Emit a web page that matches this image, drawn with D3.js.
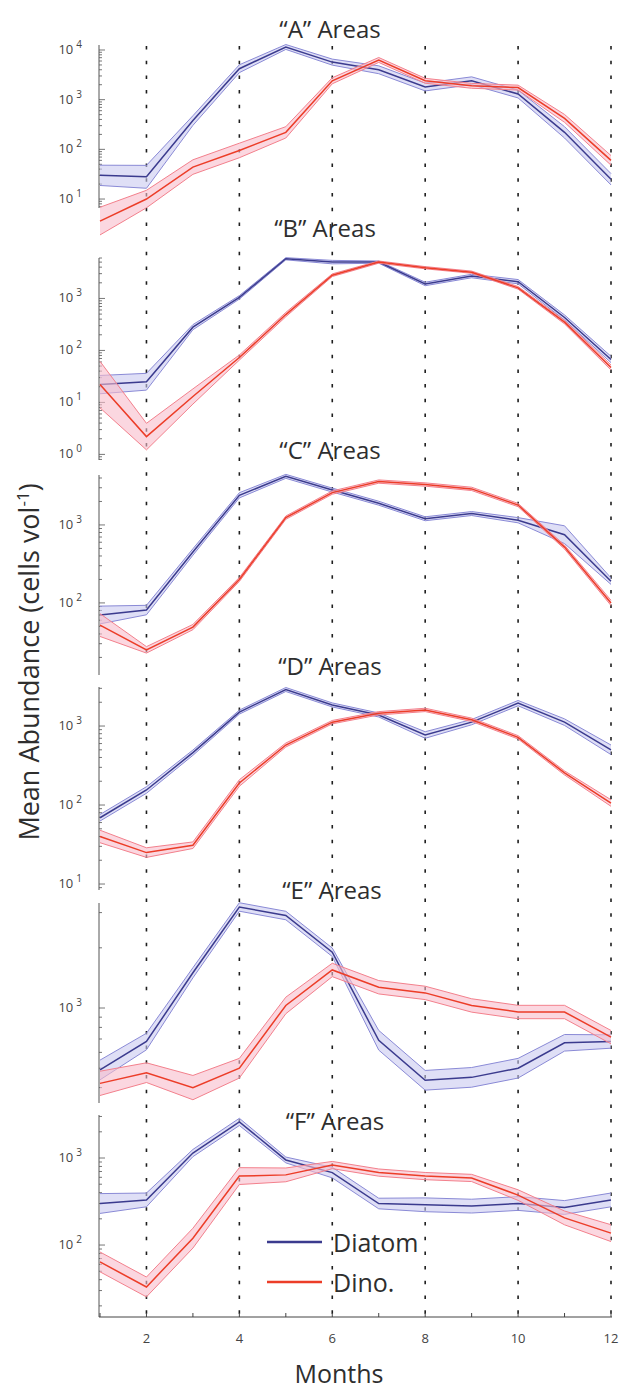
<!DOCTYPE html>
<html>
<head>
<meta charset="utf-8">
<script src="https://cdn.jsdelivr.net/npm/d3@7"></script>
<style>
  body { margin: 0; background: #fff; }
  svg { display: block; }
  text { font-family: "Open Sans", sans-serif; fill: #2e2e2e; }
</style>
</head>
<body>
<div id="chart"></div>
<script>
// ---- data ----
const months = [1, 2, 3, 4, 5, 6, 7, 8, 9, 10, 11, 12];
const xTickLabels = [2, 4, 6, 8, 10, 12];
const panelLabels = ["A", "B", "C", "D", "E", "F"];

// mean abundance (cells vol-1)
const diatomA = [30, 28, 380, 4200, 11500, 5700, 4000, 1800, 2400, 1300, 220, 25];
const dinoA   = [3.6, 10, 44, 95, 220, 2400, 6300, 2400, 1900, 1750, 420, 60];
const diatomB = [22, 25, 280, 1050, 5800, 5000, 5000, 1900, 2700, 2100, 430, 67];
const dinoB   = [22, 2.2, 13, 73, 490, 2800, 5000, 3900, 3200, 1600, 350, 47];
const diatomC = [70, 81, 450, 2400, 4200, 2800, 1900, 1200, 1400, 1150, 750, 190];
const dinoC   = [52, 25, 49, 200, 1240, 2600, 3600, 3300, 2900, 1800, 520, 100];
const diatomD = [69, 155, 460, 1500, 2900, 1850, 1380, 770, 1120, 1950, 1120, 500];
const dinoD   = [40, 25, 31, 190, 575, 1120, 1450, 1600, 1200, 720, 255, 106];
const diatomE = [490, 680, 1500, 3200, 2900, 1900, 690, 435, 450, 500, 670, 680];
const dinoE   = [420, 475, 400, 500, 1030, 1550, 1270, 1190, 1030, 955, 955, 715];
const diatomF = [300, 330, 1140, 2600, 950, 680, 300, 290, 280, 300, 270, 330];
const dinoF   = [64, 33, 120, 620, 640, 830, 680, 620, 590, 375, 205, 137];

// spread of the shaded band (multiplicative factor around the mean)
const diatomASpread = [1.6, 1.7, 1.25, 1.2, 1.12, 1.15, 1.2, 1.2, 1.2, 1.2, 1.3, 1.3];
const dinoASpread   = [1.9, 1.5, 1.4, 1.4, 1.3, 1.15, 1.12, 1.12, 1.12, 1.12, 1.2, 1.25];
const diatomBSpread = [1.5, 1.45, 1.12, 1.08, 1.05, 1.08, 1.05, 1.08, 1.08, 1.1, 1.12, 1.15];
const dinoBSpread   = [2.8, 1.8, 1.4, 1.12, 1.1, 1.06, 1.05, 1.05, 1.05, 1.06, 1.08, 1.12];
const diatomCSpread = [1.3, 1.15, 1.1, 1.08, 1.06, 1.06, 1.06, 1.06, 1.06, 1.08, 1.3, 1.1];
const dinoCSpread   = [1.4, 1.1, 1.08, 1.06, 1.05, 1.05, 1.05, 1.05, 1.05, 1.05, 1.06, 1.08];
const diatomDSpread = [1.1, 1.1, 1.08, 1.06, 1.06, 1.06, 1.06, 1.1, 1.08, 1.08, 1.1, 1.15];
const dinoDSpread   = [1.2, 1.15, 1.1, 1.1, 1.06, 1.05, 1.05, 1.05, 1.05, 1.05, 1.06, 1.1];
const diatomESpread = [1.12, 1.1, 1.06, 1.05, 1.05, 1.05, 1.12, 1.12, 1.12, 1.12, 1.1, 1.08];
const dinoESpread   = [1.15, 1.12, 1.15, 1.12, 1.1, 1.08, 1.08, 1.08, 1.08, 1.08, 1.08, 1.08];
const diatomFSpread = [1.3, 1.2, 1.1, 1.1, 1.08, 1.15, 1.15, 1.2, 1.2, 1.2, 1.2, 1.2];
const dinoFSpread   = [1.3, 1.3, 1.3, 1.25, 1.2, 1.1, 1.1, 1.1, 1.1, 1.15, 1.2, 1.25];

// y-axis value range and labelled decades of each panel
const yDomains = [[6.6, 12600], [0.78, 6000], [11.9, 4370], [8.4, 3120], [335, 3350], [14.9, 3120]];
const yTickExps = [[1, 2, 3, 4], [0, 1, 2, 3], [2, 3], [1, 2, 3], [3], [2, 3]];

const diatoms = [diatomA, diatomB, diatomC, diatomD, diatomE, diatomF];
const dinos = [dinoA, dinoB, dinoC, dinoD, dinoE, dinoF];
const diatomSpreads = [diatomASpread, diatomBSpread, diatomCSpread, diatomDSpread, diatomESpread, diatomFSpread];
const dinoSpreads = [dinoASpread, dinoBSpread, dinoCSpread, dinoDSpread, dinoESpread, dinoFSpread];

// ---- layout ----
const W = 621, H = 1389;
const axisX = 99;
const panelTops = [45, 258, 475, 687, 903, 1115];
const panelBottoms = [208, 460, 675, 890, 1103, 1317];
const titleX = [330, 325, 330, 330, 332, 335];
const titleY = [38, 237, 459, 675, 899, 1130];

const svg = d3.select("#chart").append("svg")
    .attr("width", W)
    .attr("height", H);

const x = d3.scaleLinear().domain([1, 12]).range([axisX + 1, 611]);

// dotted month guides
svg.append("g")
    .selectAll("line")
    .data(xTickLabels)
    .join("line")
    .attr("x1", d => x(d)).attr("x2", d => x(d))
    .attr("y1", 46).attr("y2", panelBottoms[5])
    .attr("stroke", "#1e1e1e")
    .attr("stroke-width", 1.6)
    .attr("stroke-dasharray", "3.5,11.2");

const blue = { line: "#3b3b8e", edge: "#8a8ad6", fill: "#c9c9f0" };
const red = { line: "#ec3d28", edge: "#f3808c", fill: "#f8bccb" };

panelLabels.forEach((lab, i) => {
    const y = d3.scaleLog()
        .domain(yDomains[i])
        .range([panelBottoms[i], panelTops[i]]);
    const g = svg.append("g");

    // axis line + log ticks (inside)
    g.append("line")
        .attr("x1", axisX).attr("x2", axisX)
        .attr("y1", panelTops[i]).attr("y2", panelBottoms[i])
        .attr("stroke", "#555").attr("stroke-width", 1);

    const [lo, hi] = yDomains[i];
    const ticks = [];
    for (let e = Math.floor(Math.log10(lo)); e <= Math.ceil(Math.log10(hi)); e++) {
        for (let m = 1; m <= 9; m++) {
            const v = m * Math.pow(10, e);
            if (v >= lo && v <= hi) ticks.push({ v, major: m === 1 });
        }
    }
    g.selectAll(".tk")
        .data(ticks)
        .join("line")
        .attr("x1", axisX).attr("x2", d => axisX + (d.major ? 6 : 3))
        .attr("y1", d => y(d.v)).attr("y2", d => y(d.v))
        .attr("stroke", "#555").attr("stroke-width", 0.8);

    const lbl = g.selectAll(".lbl")
        .data(yTickExps[i])
        .join("text")
        .attr("x", 82)
        .attr("y", d => y(Math.pow(10, d)) + 4)
        .attr("text-anchor", "end")
        .style("font-size", "13px")
        .style("fill", "#444");
    lbl.append("tspan").text("10");
    lbl.append("tspan").attr("dx", 3).attr("dy", -6)
        .style("font-size", "10px").text(d => d);

    // bands and lines
    const series = [
        { vals: diatoms[i], spread: diatomSpreads[i], col: blue },
        { vals: dinos[i], spread: dinoSpreads[i], col: red }
    ];
    series.forEach(s => {
        const pts = months.map((m, k) => ({ m, v: s.vals[k], f: s.spread[k] }));
        const area = d3.area()
            .x(d => x(d.m))
            .y0(d => y(d.v / d.f))
            .y1(d => y(d.v * d.f));
        g.append("path").datum(pts)
            .attr("d", area)
            .attr("fill", s.col.fill)
            .attr("fill-opacity", 0.6);
        const upper = d3.line().x(d => x(d.m)).y(d => y(d.v * d.f));
        const lower = d3.line().x(d => x(d.m)).y(d => y(d.v / d.f));
        [upper, lower].forEach(fn => {
            g.append("path").datum(pts)
                .attr("d", fn)
                .attr("fill", "none")
                .attr("stroke", s.col.edge)
                .attr("stroke-width", 1);
        });
        g.append("path").datum(pts)
            .attr("d", d3.line().x(d => x(d.m)).y(d => y(d.v)))
            .attr("fill", "none")
            .attr("stroke", s.col.line)
            .attr("stroke-width", 1.5);
    });

    g.append("text")
        .attr("x", titleX[i]).attr("y", titleY[i])
        .attr("text-anchor", "middle")
        .style("font-size", "24px")
        .text("\u201C" + lab + "\u201D Areas");
});

// bottom x axis
const xAxis = svg.append("g")
    .attr("transform", `translate(0,${panelBottoms[5]})`);
xAxis.append("line")
    .attr("x1", axisX).attr("x2", 612)
    .attr("stroke", "#444").attr("stroke-width", 1);
xAxis.selectAll(".xt")
    .data(months)
    .join("line")
    .attr("x1", d => x(d)).attr("x2", d => x(d))
    .attr("y1", 0).attr("y2", -4)
    .attr("stroke", "#444");
xAxis.selectAll(".xl")
    .data(xTickLabels)
    .join("text")
    .attr("x", d => x(d)).attr("y", 26)
    .attr("text-anchor", "middle")
    .style("font-size", "13px")
    .style("fill", "#444")
    .text(d => d);

svg.append("text")
    .attr("x", 339).attr("y", 1383)
    .attr("text-anchor", "middle")
    .style("font-size", "25px")
    .text("Months");

const yl = svg.append("text")
    .attr("transform", "translate(39,662) rotate(-90)")
    .attr("text-anchor", "middle")
    .style("font-size", "27px");
yl.append("tspan").text("Mean Abundance (cells vol");
yl.append("tspan").attr("dy", -10).style("font-size", "17px").text("-1");
yl.append("tspan").attr("dy", 10).text(")");

// legend
const legendNames = ["Diatom", "Dino."];
const legendColors = [blue.line, red.line];
const legendY = [1242, 1282];
legendNames.forEach((name, k) => {
    svg.append("line")
        .attr("x1", 267).attr("x2", 322)
        .attr("y1", legendY[k]).attr("y2", legendY[k])
        .attr("stroke", legendColors[k]).attr("stroke-width", 2.5);
    svg.append("text")
        .attr("x", 333).attr("y", legendY[k] + 10)
        .style("font-size", "25px")
        .text(name);
});
</script>
</body>
</html>
